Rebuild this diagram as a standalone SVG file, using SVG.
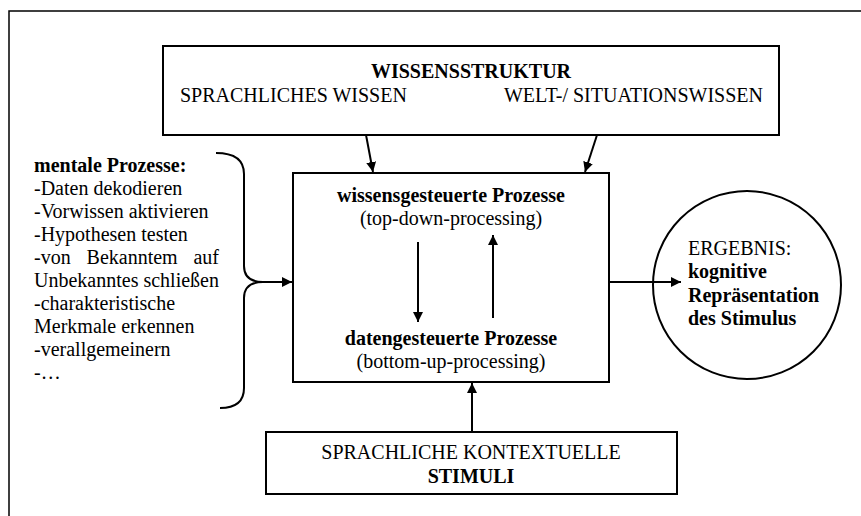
<svg xmlns="http://www.w3.org/2000/svg" width="861" height="516" viewBox="0 0 861 516">
<defs>
<marker id="ah" viewBox="0 0 10 10" refX="10" refY="5" markerWidth="10" markerHeight="10" markerUnits="userSpaceOnUse" orient="auto">
<path d="M0,0 L10,5 L0,10 z" fill="#000"/>
</marker>
</defs>
<style>
.t{font-family:'Liberation Serif','DejaVu Serif',serif;font-size:20px;fill:#000}
.b{font-weight:bold}
.box{fill:#fff;stroke:#000;stroke-width:2}
.con{stroke:#000;stroke-width:2;fill:none}
</style>
<rect width="861" height="516" fill="#fff"/>
<path d="M9,516 V11 H861" fill="none" stroke="#000" stroke-width="1.5"/>
<g id="wissensstruktur">
<rect class="box" x="163" y="46" width="616" height="89"/>
<text class="t b" x="471" y="78" text-anchor="middle">WISSENSSTRUKTUR</text>
<text class="t" x="180" y="102">SPRACHLICHES WISSEN</text>
<text class="t" x="763" y="102" text-anchor="end">WELT-/ SITUATIONSWISSEN</text>
</g>
<g id="prozesse">
<rect class="box" x="293" y="173" width="316" height="209"/>
<text class="t b" x="451" y="202" text-anchor="middle">wissensgesteuerte Prozesse</text>
<text class="t" x="451" y="225" text-anchor="middle">(top-down-processing)</text>
<text class="t b" x="451" y="345" text-anchor="middle">datengesteuerte Prozesse</text>
<text class="t" x="451" y="368" text-anchor="middle">(bottom-up-processing)</text>
</g>
<g id="mentale">
<text class="t b" x="34" y="172">mentale Prozesse:</text>
<text class="t" x="34" y="195">-Daten dekodieren</text>
<text class="t" x="34" y="218">-Vorwissen aktivieren</text>
<text class="t" x="34" y="241">-Hypothesen testen</text>
<text class="t" y="264"><tspan x="34">-von</tspan><tspan x="86.6">Bekanntem</tspan><tspan x="219" text-anchor="end">auf</tspan></text>
<text class="t" x="34" y="287">Unbekanntes schließen</text>
<text class="t" x="34" y="310">-charakteristische</text>
<text class="t" x="34" y="333">Merkmale erkennen</text>
<text class="t" x="34" y="356">-verallgemeinern</text>
<text class="t" x="34" y="379">-…</text>
</g>
<g id="ergebnis">
<circle class="box" cx="747" cy="285" r="94"/>
<text class="t" x="688" y="255">ERGEBNIS:</text>
<text class="t b" x="688" y="278">kognitive</text>
<text class="t b" x="688" y="302">Repräsentation</text>
<text class="t b" x="688" y="325">des Stimulus</text>
</g>
<g id="stimuli">
<rect class="box" x="266" y="432" width="411" height="62"/>
<text class="t" x="471" y="459" text-anchor="middle">SPRACHLICHE KONTEXTUELLE</text>
<text class="t b" x="471" y="483" text-anchor="middle">STIMULI</text>
</g>
<g id="connectors">
<path class="con" d="M216,153 Q244,153 244,174 L244,266 Q244,282 263,282 Q244,282 244,298 L244,388 Q244,408 220,408"/>
<line class="con" x1="263" y1="282" x2="292" y2="282" marker-end="url(#ah)"/>
<line class="con" x1="366" y1="135" x2="373" y2="172" marker-end="url(#ah)"/>
<line class="con" x1="597" y1="135" x2="585" y2="172" marker-end="url(#ah)"/>
<line class="con" x1="418" y1="242" x2="418" y2="322" marker-end="url(#ah)"/>
<line class="con" x1="493" y1="318" x2="493" y2="235" marker-end="url(#ah)"/>
<line class="con" x1="609" y1="282" x2="681" y2="282" marker-end="url(#ah)"/>
<line class="con" x1="472" y1="432" x2="472" y2="383" marker-end="url(#ah)"/>
</g>
</svg>
